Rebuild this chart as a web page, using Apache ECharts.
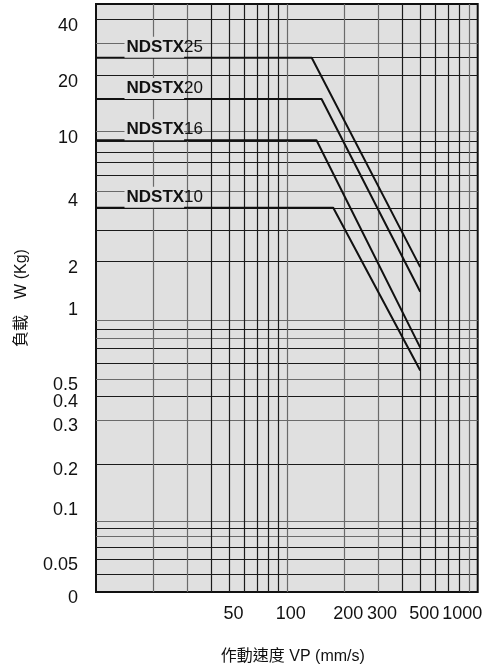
<!DOCTYPE html>
<html><head><meta charset="utf-8">
<script src="https://cdn.jsdelivr.net/npm/echarts@6/dist/echarts.min.js"></script>
<style>html,body{margin:0;padding:0;background:#fff}#c{width:490px;height:670px}</style>
</head><body><div id="c"></div>
<script>
// ---- data ----
const seriesNames = ['NDSTX25', 'NDSTX20', 'NDSTX16', 'NDSTX10'];
const flatLoads   = [25, 15, 9, 3.9];        // kg, constant load below the knee
const kneeSpeeds  = [135, 152, 143, 175];    // mm/s where the load starts to fall
const endSpeed    = 500;                     // mm/s
const endLoads    = [1.87, 1.38, 0.69, 0.52];// kg at 500 mm/s
const startSpeed  = 10;

// axis ranges and grid lines (axis values)
const xRange = [10, 1000];
const yRange = [0.0335, 48.6];
const xTickLabels = [50, 100, 200, 300, 500, 1000];
const xGridDark  = [40, 50, 60, 70, 80, 90, 400, 500, 600, 700, 800];
const xGridLight = [20, 30, 100, 200, 300, 900];
const yTickText  = ['40', '20', '10', '4', '2', '1', '0.5', '0.4', '0.3', '0.2', '0.1', '0.05', '0'];
const yTickAt    = [40, 20, 10, 4.57, 2, 1.185, 0.468, 0.38, 0.282, 0.1626, 0.0996, 0.0504, 0.0335];
const yGridDark  = [40, 25, 20, 8.9, 7.8, 6.85, 5.85, 3.9, 2.95, 2, 0.87, 0.687, 0.571, 0.379, 0.1626, 0.0737, 0.0581, 0.0504, 0.0416];
const yGridLight = [30, 10, 4.8, 0.972, 0.771, 0.468, 0.282, 0.0807, 0.0665];

const FONT = '"Liberation Sans", Arial, "Noto Sans CJK TC", sans-serif';
const BG = '#e0e0e0';

const chart = echarts.init(document.getElementById('c'), null, {renderer: 'canvas'});

function gridAxis(vals, color, extra) {
  return Object.assign({
    type: 'log', logBase: 10,
    axisLine: {show: false},
    axisTick: {show: false, customValues: vals},
    axisLabel: {show: false},
    splitLine: {show: true, lineStyle: {color: color, width: 1.2}},
    minorSplitLine: {show: false}
  }, extra);
}

const series = seriesNames.map((name, i) => ({
  name: name,
  type: 'line',
  xAxisIndex: 0, yAxisIndex: 0,
  symbol: 'circle', symbolSize: 1, showSymbol: true,
  itemStyle: {color: 'rgba(0,0,0,0)'},
  lineStyle: {color: '#111', width: 2},
  z: 5,
  data: [
    {value: [startSpeed, flatLoads[i]], label: {
      show: true, position: 'right', distance: 0, offset: [28, -10.5],
      formatter: '{b|NDSTX}{n|' + name.slice(5) + '}',
      rich: {
        b: {fontFamily: FONT, fontSize: 17, fontWeight: 'bold', color: '#111', backgroundColor: BG, padding: [2, 0, 2, 2]},
        n: {fontFamily: FONT, fontSize: 17, color: '#111', padding: [2, 0, 2, 0]}
      }
    }},
    [kneeSpeeds[i], flatLoads[i]],
    [endSpeed, endLoads[i]]
  ]
}));

chart.setOption({
  animation: false,
  grid: {left: 96, right: 12.3, top: 4, bottom: 78, show: true, backgroundColor: BG, borderColor: '#111', borderWidth: 2},
  xAxis: [
    gridAxis(xGridDark, '#1a1a1a', {
      min: xRange[0], max: xRange[1],
      name: '作動速度 VP (mm/s)', nameLocation: 'middle', nameGap: 57,
      nameTextStyle: {fontFamily: FONT, fontSize: 16, color: '#111', padding: [0, 0, 0, 12]},
      axisLabel: {show: true, customValues: xTickLabels, margin: 13, fontFamily: FONT, fontSize: 18, color: '#111',
        padding: [0, 0, 0, 8],
        formatter: v => v === 1000 ? '{r|1000}' : String(v),
        rich: {r: {fontFamily: FONT, fontSize: 18, color: '#111', padding: [0, 39, 0, 0]}}}
    }),
    gridAxis(xGridLight, '#6a6a6a', {min: xRange[0], max: xRange[1]})
  ],
  yAxis: [
    gridAxis(yGridDark, '#1a1a1a', {
      min: yRange[0], max: yRange[1],
      name: '負載　W (Kg)', nameLocation: 'middle', nameRotate: 90, nameGap: 66,
      nameTextStyle: {fontFamily: FONT, fontSize: 16, color: '#111'},
      axisLabel: {show: true, customValues: yTickAt, margin: 18, color: '#111',
        formatter: v => {
          let best = 0, bd = 1e9;
          yTickAt.forEach((t, i) => { const d = Math.abs(Math.log10(t) - Math.log10(v)); if (d < bd) { bd = d; best = i; } });
          return '{t|' + yTickText[best] + '}';
        },
        rich: {t: {fontFamily: FONT, fontSize: 18, color: '#111', padding: [12, 0, 0, 0]}}}
    }),
    gridAxis(yGridLight, '#6a6a6a', {min: yRange[0], max: yRange[1]})
  ],
  series: series
});
</script></body></html>
